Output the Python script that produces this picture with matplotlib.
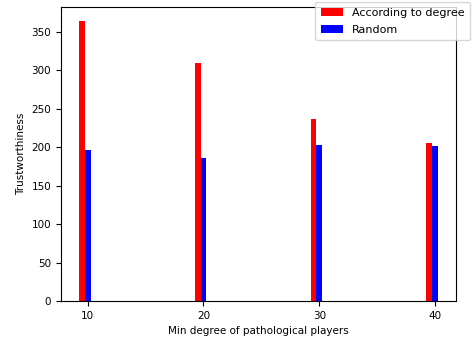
import numpy as np
from matplotlib import pyplot as plt

degrees = np.array([10, 20, 30, 40])
by_degree = [364, 310, 237, 205]
random_vals = [196, 186, 203, 202]

plt.rcParams['font.size'] = 7.5

fig = plt.figure(figsize=(4.73, 3.39), dpi=100)
ax = fig.add_axes([61/473, 1 - 301/339, (456-61)/473, (301-7)/339])

ax.bar(degrees - 0.5, by_degree, width=0.5, color='red', label='According to degree')
ax.bar(degrees, random_vals, width=0.5, color='blue', label='Random')

ax.set_xticks(degrees)
ax.set_xlabel('Min degree of pathological players')
ax.set_ylabel('Trustworthiness')
ax.legend(loc='upper right', bbox_to_anchor=(470/473, 1 - 2/339),
          bbox_transform=fig.transFigure, borderaxespad=0,
          fontsize=8, labelspacing=0.65, borderpad=0.5)

fig.savefig('out.png', dpi=100)
